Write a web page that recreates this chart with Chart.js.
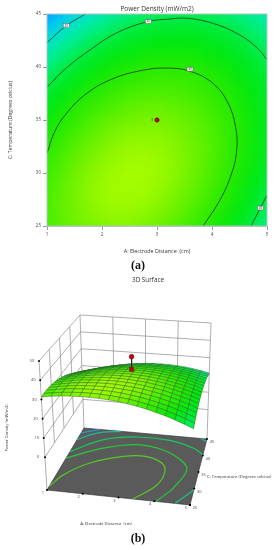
<!DOCTYPE html>
<html>
<head>
<meta charset="utf-8">
<title>Power Density</title>
<script src="https://cdn.jsdelivr.net/npm/chart.js@4"></script>
<style>
  body { margin: 0; background: #fff; width: 278px; height: 550px; position: relative; overflow: hidden; }
  canvas { position: absolute; left: 0; }
  #contourChart { top: 0; }
  #surfaceChart { top: 270px; }
  .cap { position: absolute; left: 118px; width: 40px; text-align: center; font: bold 12px "Liberation Serif", serif; color: #111; }
</style>
</head>
<body>
<canvas id="contourChart" width="278" height="258"></canvas>
<canvas id="surfaceChart" width="278" height="265"></canvas>
<div class="cap" style="top:258px">(a)</div>
<div class="cap" style="top:531px">(b)</div>
<script>
// Axis ticks
const distanceTicks = [1, 2, 3, 4, 5];
const tempTicks = [25, 30, 35, 40, 45];
const powerTicks = [0, 10, 20, 30, 40, 50];

// Response grid (rows = temperature, columns = distance)
const gridDistance = [1, 1.25, 1.5, 1.75, 2, 2.25, 2.5, 2.75, 3, 3.25, 3.5, 3.75, 4, 4.25, 4.5, 4.75, 5];
const gridTemp = [25, 26.25, 27.5, 28.75, 30, 31.25, 32.5, 33.75, 35, 36.25, 37.5, 38.75, 40, 41.25, 42.5, 43.75, 45];
const powerGrid = [
  [31.4, 32.2, 32.9, 33.3, 33.6, 33.7, 33.7, 33.4, 33.0, 32.4, 31.6, 30.6, 29.4, 28.1, 26.5, 24.8, 22.9],
  [31.5, 32.4, 33.1, 33.6, 34.0, 34.1, 34.1, 33.9, 33.5, 33.0, 32.2, 31.3, 30.2, 28.9, 27.4, 25.8, 23.9],
  [31.5, 32.4, 33.2, 33.8, 34.2, 34.4, 34.4, 34.3, 34.0, 33.4, 32.8, 31.9, 30.8, 29.6, 28.2, 26.6, 24.8],
  [31.3, 32.3, 33.1, 33.8, 34.2, 34.5, 34.6, 34.5, 34.2, 33.8, 33.1, 32.3, 31.3, 30.1, 28.8, 27.2, 25.5],
  [31.0, 32.0, 32.9, 33.6, 34.1, 34.4, 34.6, 34.6, 34.3, 33.9, 33.4, 32.6, 31.7, 30.5, 29.2, 27.7, 26.1],
  [30.5, 31.6, 32.5, 33.3, 33.8, 34.2, 34.4, 34.5, 34.3, 34.0, 33.4, 32.7, 31.8, 30.8, 29.5, 28.1, 26.5],
  [29.9, 31.0, 32.0, 32.8, 33.4, 33.9, 34.1, 34.2, 34.1, 33.8, 33.4, 32.7, 31.9, 30.9, 29.7, 28.3, 26.7],
  [29.1, 30.3, 31.3, 32.2, 32.9, 33.4, 33.7, 33.8, 33.8, 33.5, 33.1, 32.5, 31.8, 30.8, 29.7, 28.3, 26.8],
  [28.2, 29.4, 30.5, 31.5, 32.2, 32.7, 33.1, 33.3, 33.3, 33.1, 32.8, 32.2, 31.5, 30.6, 29.5, 28.2, 26.8],
  [27.1, 28.4, 29.6, 30.6, 31.3, 31.9, 32.4, 32.6, 32.7, 32.5, 32.2, 31.8, 31.1, 30.2, 29.2, 28.0, 26.6],
  [25.9, 27.3, 28.5, 29.5, 30.3, 31.0, 31.5, 31.8, 31.9, 31.8, 31.6, 31.1, 30.5, 29.7, 28.8, 27.6, 26.2],
  [24.5, 25.9, 27.2, 28.3, 29.2, 29.9, 30.4, 30.8, 31.0, 30.9, 30.8, 30.4, 29.8, 29.1, 28.1, 27.0, 25.8],
  [23.0, 24.5, 25.8, 26.9, 27.9, 28.7, 29.3, 29.7, 29.9, 29.9, 29.8, 29.5, 29.0, 28.3, 27.4, 26.4, 25.1],
  [21.3, 22.9, 24.2, 25.4, 26.4, 27.3, 27.9, 28.4, 28.6, 28.7, 28.7, 28.4, 27.9, 27.3, 26.5, 25.5, 24.3],
  [19.5, 21.1, 22.5, 23.8, 24.8, 25.7, 26.4, 26.9, 27.3, 27.4, 27.4, 27.2, 26.8, 26.2, 25.5, 24.5, 23.4],
  [17.5, 19.2, 20.7, 22.0, 23.1, 24.0, 24.8, 25.4, 25.7, 26.0, 26.0, 25.8, 25.5, 25.0, 24.3, 23.4, 22.3],
  [15.4, 17.1, 18.7, 20.0, 21.2, 22.2, 23.0, 23.6, 24.1, 24.3, 24.4, 24.3, 24.0, 23.6, 22.9, 22.1, 21.1]
];

// Contours on the flat plot, [distance, temp]
const contour30 = [[1, 31.85], [1.14, 33.9], [1.35, 35.6], [1.72, 37.5], [2.2, 38.9], [2.75, 39.7], [3.18, 39.9], [3.6, 39.6], [4.03, 38.4], [4.3, 36.5], [4.43, 34.3], [4.45, 32.2], [4.36, 30], [4.15, 27.5], [3.84, 25]];
const contour25 = [[1, 38.1], [1.35, 39.9], [1.78, 41.6], [2.26, 43.2], [2.84, 44.3], [3.18, 44.5], [3.54, 44.6], [4.03, 44.1], [4.51, 43], [4.82, 41.8], [5, 40.7]];
const contour20a = [[1, 42.3], [1.35, 43.9], [1.7, 45]];
const contour20b = [[4.71, 25], [4.88, 26.7], [5, 27.9]];
const contourLabels = [[1.35, 43.9, '20'], [2.84, 44.3, '25'], [3.6, 39.8, '30'], [4.88, 26.7, '20']];

// Design point: [distance, temp, actual, predicted]
const designPoint = [3, 35, 43, 36];

// Contours on the floor of the 3D box
const floorInner = [[1, 26.2], [1.2, 30.1], [1.76, 34.5], [2.64, 37.5], [3.32, 38.1], [3.84, 36.6], [4.02, 34.1], [3.92, 29.9], [3.4, 25]];
const floorSecond = [[1, 35.3], [1.92, 39.4], [2.88, 41.4], [3.72, 40.6], [4.36, 38.1], [4.64, 35.3], [4.4, 29.4], [4.2, 26.8], [4.05, 25]];
const floorThird = [[1, 37.4], [1.8, 42], [2.76, 43.7], [3.84, 43.6], [4.66, 41.9], [5, 40.2]];
const floorThirdCorner = [[4.58, 25], [4.8, 27.4], [5, 29.6]];
const floorFourth = [[1, 41.2], [1.48, 43.8], [2.2, 45]];
const floorFourthCorner = [[4.8, 45], [5, 44.2]];
const floorFifth = [[1, 43.4], [1.52, 45]];

// Camera: where the box corners land on the page
const zFloor = -17, zTop = 50;
const boxBottom = { fl: [47, 490], fr: [190, 505], br: [207, 439], bl: [84, 428] };
const boxTop = { fl: [39, 361], fr: [196, 377], br: [211, 323], bl: [80, 315] };

const FONT = '"Open Sans", sans-serif';
const TEXT = '#4a4a4a';

const colorStops = [
  [15, [0, 150, 255]], [17.5, [0, 200, 250]], [20, [0, 228, 200]], [22.9, [0, 240, 130]],
  [25, [0, 236, 64]], [27.5, [0, 232, 16]], [30, [40, 234, 0]], [31.5, [70, 238, 0]],
  [33.3, [120, 242, 0]], [34.6, [165, 252, 0]]
];

function zColor(z) {
  for (let i = 1; i < colorStops.length; i++) {
    if (z <= colorStops[i][0]) {
      let a = colorStops[i - 1], b = colorStops[i];
      let t = Math.max(0, (z - a[0]) / (b[0] - a[0]));
      let c = a[1].map((v, k) => Math.round(v + (b[1][k] - v) * t));
      return 'rgb(' + c.join(',') + ')';
    }
  }
  return 'rgb(165,252,0)';
}

function xy(list) {
  return list.map(p => ({ x: p[0], y: p[1] }));
}

// Heat map cells, painted through the scales then softened
const heatPlugin = {
  id: 'heat',
  beforeDatasetsDraw(chart) {
    const { ctx, chartArea: area, scales: { x, y } } = chart;
    const off = document.createElement('canvas');
    off.width = chart.width; off.height = chart.height;
    const o = off.getContext('2d');
    gridTemp.forEach((t, r) => {
      gridDistance.forEach((d, c) => {
        const cx = x.getPixelForValue(d), cy = y.getPixelForValue(t);
        const w = (x.getPixelForValue(1.25) - x.getPixelForValue(1)) / 2;
        const h = (y.getPixelForValue(25) - y.getPixelForValue(26.25)) / 2;
        const left = c === 0 ? cx - 30 : cx - w - 0.5;
        const right = c === gridDistance.length - 1 ? cx + 30 : cx + w + 0.5;
        const bottom = r === 0 ? cy + 30 : cy + h + 0.5;
        const top = r === gridTemp.length - 1 ? cy - 30 : cy - h - 0.5;
        o.fillStyle = zColor(powerGrid[r][c]);
        o.fillRect(left, top, right - left, bottom - top);
      });
    });
    ctx.save();
    ctx.beginPath();
    ctx.rect(area.left, area.top, area.right - area.left, area.bottom - area.top);
    ctx.clip();
    ctx.filter = 'blur(6px)';
    ctx.drawImage(off, 0, 0);
    ctx.restore();
  },
  afterDatasetsDraw(chart) {
    const { ctx, chartArea: area, scales: { x, y } } = chart;
    ctx.save();
    ctx.strokeStyle = '#b4c4c4';
    ctx.lineWidth = 1;
    ctx.strokeRect(area.left, area.top, area.right - area.left, area.bottom - area.top);
    // contour level tags
    ctx.font = '3px ' + FONT;
    ctx.textAlign = 'center';
    ctx.textBaseline = 'middle';
    contourLabels.forEach(l => {
      const px = x.getPixelForValue(l[0]), py = y.getPixelForValue(l[1]);
      ctx.fillStyle = '#f4f4f4';
      ctx.strokeStyle = '#666';
      ctx.lineWidth = 0.5;
      ctx.fillRect(px - 3, py - 2, 6, 4);
      ctx.strokeRect(px - 3, py - 2, 6, 4);
      ctx.fillStyle = '#333';
      ctx.fillText(l[2], px, py);
    });
    // replicate count next to the design point
    ctx.fillStyle = '#333';
    ctx.fillText('3', x.getPixelForValue(designPoint[0]) - 5, y.getPixelForValue(designPoint[1]));
    ctx.restore();
  }
};

function contourSet(list) {
  return { data: xy(list), borderColor: '#1c3a1c', borderWidth: 0.8, pointRadius: 0, tension: 0.4, fill: false };
}

new Chart(document.getElementById('contourChart'), {
  type: 'line',
  data: {
    datasets: [
      { data: [{ x: designPoint[0], y: designPoint[1] }], showLine: false, pointRadius: 2.2, pointBackgroundColor: '#c4000c', pointBorderColor: '#4a1010', pointBorderWidth: 0.6 },
      contourSet(contour30), contourSet(contour25), contourSet(contour20a), contourSet(contour20b)
    ]
  },
  options: {
    responsive: false,
    animation: false,
    layout: { padding: { right: 11 }, autoPadding: false },
    plugins: {
      legend: { display: false },
      tooltip: { enabled: false },
      title: {
        display: true, text: 'Power Density (mW/m2)', fullSize: false,
        color: '#333', font: { family: FONT, size: 6.5, weight: 'normal', lineHeight: 1.2 },
        padding: { top: 5.1, bottom: 1.1 }
      }
    },
    scales: {
      x: {
        type: 'linear', min: 1, max: 5,
        afterBuildTicks(s) { s.ticks = distanceTicks.map(v => ({ value: v })); },
        afterFit(s) { s.height = 32; },
        grid: { drawOnChartArea: false, tickLength: 4, color: '#999' },
        border: { color: '#b4c4c4' },
        ticks: { color: TEXT, font: { family: FONT, size: 4.5 }, padding: 2, maxRotation: 0 },
        title: { display: true, text: 'A: Electrode Distance  (cm)', color: '#333', font: { family: FONT, size: 5.4 }, padding: { top: 2, bottom: 3.5 } }
      },
      y: {
        type: 'linear', min: 25, max: 45,
        afterBuildTicks(s) { s.ticks = tempTicks.map(v => ({ value: v })); },
        afterFit(s) { s.width = 47; },
        grid: { drawOnChartArea: false, tickLength: 4, color: '#999' },
        border: { color: '#b4c4c4' },
        ticks: { color: TEXT, font: { family: FONT, size: 4.5 }, padding: 2 },
        title: { display: true, text: 'C: Temperature (Degrees celcius)', color: '#333', font: { family: FONT, size: 5.1 }, padding: { top: 7.5, bottom: 0 } }
      }
    }
  },
  plugins: [heatPlugin]
});

// 3D view
function mix(a, b, t) {
  return [a[0] + (b[0] - a[0]) * t, a[1] + (b[1] - a[1]) * t];
}

function flat(box, u, v) {
  return mix(mix(box.fl, box.fr, u), mix(box.bl, box.br, u), v);
}

function project(d, t, z) {
  const u = (d - 1) / 4, v = (t - 25) / 20, w = (z - zFloor) / (zTop - zFloor);
  const p = mix(flat(boxBottom, u, v), flat(boxTop, u, v), w);
  return { x: p[0], y: p[1] };
}

const surfaceSets = [];

function lineSet(points, color, width, order) {
  surfaceSets.push({ data: points, borderColor: color, borderWidth: width, pointRadius: 0, order: order, fill: false, tension: 0 });
}

// back and left walls
const wallColor = '#8c8c8c';
powerTicks.forEach(z => {
  lineSet([project(1, 25, z), project(1, 45, z), project(5, 45, z)], wallColor, 0.7, 1000);
});
tempTicks.forEach(t => {
  const low = (t === 25 || t === 45) ? zFloor : 0;
  lineSet([project(1, t, low), project(1, t, zTop)], wallColor, 0.7, 1000);
});
distanceTicks.slice(1).forEach(d => {
  const low = d === 5 ? zFloor : 0;
  lineSet([project(d, 45, low), project(d, 45, zTop)], wallColor, 0.7, 1000);
});

// floor
surfaceSets.push({
  data: [project(1, 25, zFloor), project(5, 25, zFloor), project(5, 45, zFloor), project(1, 45, zFloor), project(1, 25, zFloor)],
  borderColor: '#2e2e2e', borderWidth: 0.6, backgroundColor: '#5a5a5a', pointRadius: 0, order: 900, fill: 'shape', tension: 0
});

function floorLine(list, color) {
  surfaceSets.push({
    data: list.map(p => project(p[0], p[1], zFloor)), borderColor: color, borderWidth: 1.2,
    pointRadius: 0, order: 800, fill: false, tension: 0.4
  });
}
floorLine(floorInner, '#58c82a');
floorLine(floorSecond, '#26c83a');
floorLine(floorThird, '#16c860');
floorLine(floorThirdCorner, '#20c084');
floorLine(floorFourth, '#22b8a0');
floorLine(floorFourthCorner, '#22b8a0');
floorLine(floorFifth, '#2a9cc0');

// surface quads, back rows first
for (let r = 0; r < gridTemp.length - 1; r++) {
  for (let c = 0; c < gridDistance.length - 1; c++) {
    const z00 = powerGrid[r][c], z01 = powerGrid[r][c + 1], z10 = powerGrid[r + 1][c], z11 = powerGrid[r + 1][c + 1];
    const a = project(gridDistance[c], gridTemp[r], z00);
    surfaceSets.push({
      data: [a, project(gridDistance[c + 1], gridTemp[r], z01), project(gridDistance[c + 1], gridTemp[r + 1], z11), project(gridDistance[c], gridTemp[r + 1], z10), a],
      borderColor: '#2a6020', borderWidth: 0.45, backgroundColor: zColor((z00 + z01 + z10 + z11) / 4),
      pointRadius: 0, order: 100 + r, fill: 'shape', tension: 0
    });
  }
}

// axis tick dots
const tickDots = [];
powerTicks.forEach(z => tickDots.push(project(1, 25, z)));
distanceTicks.forEach(d => tickDots.push(project(d, 25, zFloor)));
tempTicks.forEach(t => tickDots.push(project(5, t, zFloor)));
surfaceSets.push({ data: tickDots, showLine: false, pointRadius: 1, pointBackgroundColor: '#000', pointBorderWidth: 0, order: 50 });

// design point and its stem
const actualAt = project(designPoint[0], designPoint[1], designPoint[2]);
const predictedAt = project(designPoint[0], designPoint[1], designPoint[3]);
lineSet([actualAt, predictedAt], '#222', 1, 3);
surfaceSets.push({ data: [actualAt], showLine: false, pointRadius: 2.4, pointBackgroundColor: '#c4000c', pointBorderColor: '#5a1010', pointBorderWidth: 0.5, order: 1 });
surfaceSets.push({ data: [predictedAt], showLine: false, pointStyle: 'rect', pointRadius: 2.8, pointBackgroundColor: '#c4000c', pointBorderColor: '#5a1010', pointBorderWidth: 0.5, order: 1 });

// Text of the 3D view
const surfaceText = {
  id: 'surfaceText',
  afterDatasetsDraw(chart) {
    const { ctx, scales: { x, y } } = chart;
    const put = (text, px, py) => ctx.fillText(text, x.getPixelForValue(px), y.getPixelForValue(py));
    ctx.save();
    ctx.textAlign = 'center';
    ctx.textBaseline = 'middle';
    ctx.fillStyle = '#333';
    ctx.font = '6.3px ' + FONT;
    put('3D Surface', 148, 280);
    ctx.font = '4.2px ' + FONT;
    put('A: Electrode Distance  (cm)', 106, 524);
    ctx.textAlign = 'left';
    put('C: Temperature (Degrees celcius)', 207, 477);
    ctx.textAlign = 'center';
    ctx.fillStyle = TEXT;
    ctx.font = '4px ' + FONT;
    powerTicks.forEach(z => {
      const p = project(1, 25, z);
      put(String(z), p.x - 7, p.y);
    });
    distanceTicks.forEach(d => {
      const p = project(d, 25, zFloor);
      put(String(d), p.x - 4, p.y + 3);
    });
    tempTicks.forEach(t => {
      const p = project(5, t, zFloor);
      put(String(t), p.x + 5, p.y + 3);
    });
    ctx.translate(x.getPixelForValue(7), y.getPixelForValue(428));
    ctx.rotate(-Math.PI / 2);
    ctx.fillStyle = '#333';
    ctx.font = '4.2px ' + FONT;
    ctx.fillText('Power Density (mW/m2)', 0, 0);
    ctx.restore();
  }
};

new Chart(document.getElementById('surfaceChart'), {
  type: 'line',
  data: { datasets: surfaceSets },
  options: {
    responsive: false,
    animation: false,
    layout: { autoPadding: false },
    plugins: { legend: { display: false }, tooltip: { enabled: false }, title: { display: false } },
    scales: {
      x: { type: 'linear', min: 0, max: 278, display: false },
      y: { type: 'linear', min: 270, max: 535, reverse: true, display: false }
    }
  },
  plugins: [surfaceText]
});
</script>
</body>
</html>
